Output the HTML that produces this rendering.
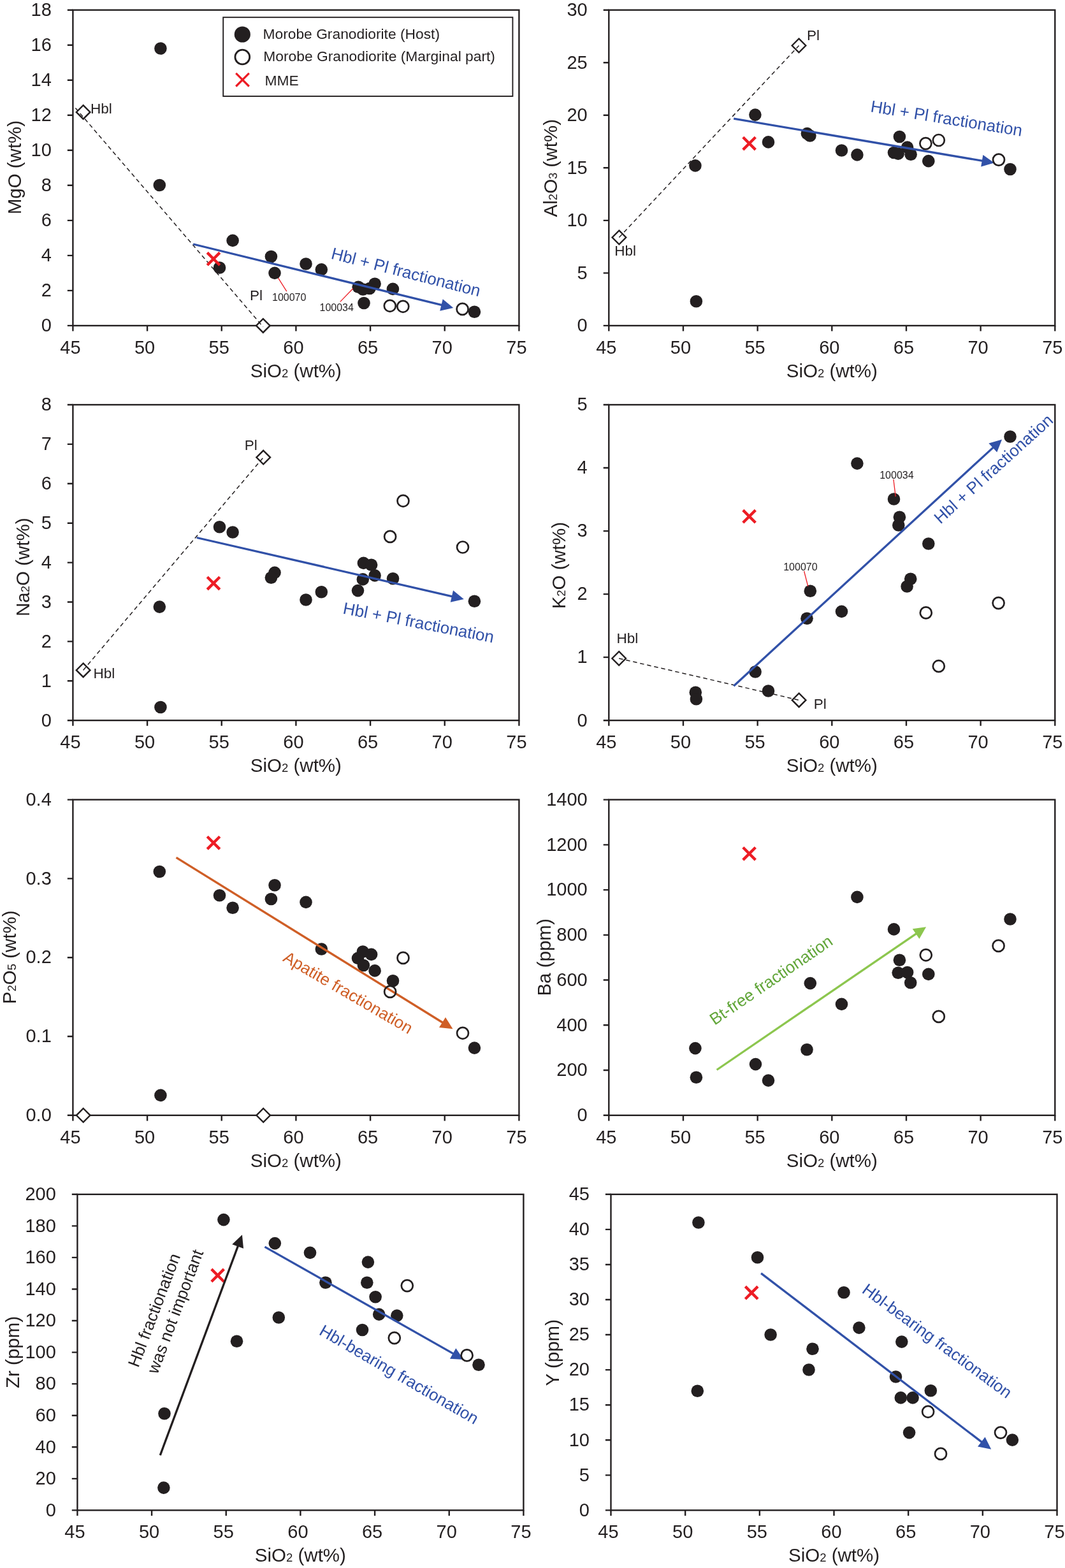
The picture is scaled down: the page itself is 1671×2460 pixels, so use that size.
<!DOCTYPE html>
<html><head><meta charset="utf-8"><title>Harker diagrams</title>
<style>html,body{margin:0;padding:0;background:#fff;}svg{display:block;}</style>
</head><body>
<svg width="1671" height="2460" viewBox="0 0 1671 2460" font-family="'Liberation Sans', Arial, Helvetica, sans-serif">
<rect width="1671" height="2460" fill="#fff"/>
<rect x="114.4" y="15.7" width="700" height="495.2" fill="none" stroke="#231f20" stroke-width="2.4"/>
<text x="80.8" y="520.19" font-size="29" fill="#231f20" text-anchor="end">0</text>
<text x="80.8" y="465.17" font-size="29" fill="#231f20" text-anchor="end">2</text>
<text x="80.8" y="410.15" font-size="29" fill="#231f20" text-anchor="end">4</text>
<text x="80.8" y="355.13" font-size="29" fill="#231f20" text-anchor="end">6</text>
<text x="80.8" y="300.11" font-size="29" fill="#231f20" text-anchor="end">8</text>
<text x="80.8" y="245.08" font-size="29" fill="#231f20" text-anchor="end">10</text>
<text x="80.8" y="190.06" font-size="29" fill="#231f20" text-anchor="end">12</text>
<text x="80.8" y="135.04" font-size="29" fill="#231f20" text-anchor="end">14</text>
<text x="80.8" y="80.02" font-size="29" fill="#231f20" text-anchor="end">16</text>
<text x="80.8" y="24.99" font-size="29" fill="#231f20" text-anchor="end">18</text>
<text x="110.4" y="554.9" font-size="29" fill="#231f20" text-anchor="middle">45</text>
<text x="227.07" y="554.9" font-size="29" fill="#231f20" text-anchor="middle">50</text>
<text x="343.73" y="554.9" font-size="29" fill="#231f20" text-anchor="middle">55</text>
<text x="460.4" y="554.9" font-size="29" fill="#231f20" text-anchor="middle">60</text>
<text x="577.07" y="554.9" font-size="29" fill="#231f20" text-anchor="middle">65</text>
<text x="693.73" y="554.9" font-size="29" fill="#231f20" text-anchor="middle">70</text>
<text x="810.4" y="554.9" font-size="29" fill="#231f20" text-anchor="middle">75</text>
<path d="M105.8 510.9H114.4M105.8 455.88H114.4M105.8 400.86H114.4M105.8 345.83H114.4M105.8 290.81H114.4M105.8 235.79H114.4M105.8 180.77H114.4M105.8 125.74H114.4M105.8 70.72H114.4M105.8 15.7H114.4M114.4 510.9V519.5M231.07 510.9V519.5M347.73 510.9V519.5M464.4 510.9V519.5M581.07 510.9V519.5M697.73 510.9V519.5M814.4 510.9V519.5" stroke="#231f20" stroke-width="2.4" fill="none"/>
<text x="464.4" y="591.9" font-size="29.5" fill="#231f20" text-anchor="middle">SiO<tspan font-size="18.5">2</tspan> (wt%)</text>
<text x="33.2" y="262.6" font-size="29.5" fill="#231f20" text-anchor="middle" transform="rotate(-90 33.2 262.6)">MgO (wt%)</text>
<path d="M130.6 165.1L141.4 175.9L130.6 186.7L119.8 175.9Z" stroke="#231f20" stroke-width="2.4" fill="#fff"/>
<path d="M412.8 500.1L423.6 510.9L412.8 521.7L402 510.9Z" stroke="#231f20" stroke-width="2.4" fill="#fff"/>
<path d="M118.4 169.4L412.8 512.8" stroke="#231f20" stroke-width="1.5" stroke-dasharray="6.5 4.8" fill="none"/>
<text x="142.1" y="177.9" font-size="22.5" fill="#231f20">Hbl</text>
<text x="391.9" y="471" font-size="22.5" fill="#231f20">Pl</text>
<circle cx="251.9" cy="76" r="9.8" fill="#231f20"/>
<circle cx="250.3" cy="290.5" r="9.8" fill="#231f20"/>
<circle cx="365.1" cy="377.4" r="9.8" fill="#231f20"/>
<circle cx="344.5" cy="420" r="9.8" fill="#231f20"/>
<circle cx="425.4" cy="402.5" r="9.8" fill="#231f20"/>
<circle cx="431" cy="428.4" r="9.8" fill="#231f20"/>
<circle cx="480" cy="414" r="9.8" fill="#231f20"/>
<circle cx="504.3" cy="422.9" r="9.8" fill="#231f20"/>
<circle cx="562.2" cy="450.2" r="9.8" fill="#231f20"/>
<circle cx="569.5" cy="454" r="9.8" fill="#231f20"/>
<circle cx="580" cy="452.5" r="9.8" fill="#231f20"/>
<circle cx="588.1" cy="445.3" r="9.8" fill="#231f20"/>
<circle cx="571" cy="475.5" r="9.8" fill="#231f20"/>
<circle cx="616.4" cy="453.4" r="9.8" fill="#231f20"/>
<circle cx="744.4" cy="489.3" r="9.8" fill="#231f20"/>
<path d="M325.2 396.4L344.8 416M325.2 416L344.8 396.4" stroke="#ed1c24" stroke-width="4.4" fill="none"/>
<path d="M436.5 436.1L449.8 457.2" stroke="#ed1c24" stroke-width="1.3" fill="none"/>
<text x="427" y="471.6" font-size="16" fill="#231f20">100070</text>
<path d="M553.8 452.8L533.8 473.4" stroke="#ed1c24" stroke-width="1.3" fill="none"/>
<text x="501.5" y="488.2" font-size="16" fill="#231f20">100034</text>
<path d="M303.1 383L693.43 478.72" stroke="#3151a8" stroke-width="3.3" fill="none"/>
<path d="M711.3 483.1L690.2 487.71L694.72 469.25Z" fill="#3151a8"/>
<text x="518.3" y="405.5" font-size="26" fill="#3151a8" transform="rotate(14.4 518.3 405.5)">Hbl + Pl fractionation</text>
<circle cx="611.8" cy="479.8" r="9" fill="none" stroke="#231f20" stroke-width="2.7"/>
<circle cx="632.3" cy="480.8" r="9" fill="none" stroke="#231f20" stroke-width="2.7"/>
<circle cx="725.6" cy="484.9" r="9" fill="none" stroke="#231f20" stroke-width="2.7"/>
<rect x="350.2" y="27.2" width="454.2" height="123.8" fill="#fff" stroke="#231f20" stroke-width="1.9"/>
<circle cx="380.3" cy="54" r="12.6" fill="#231f20"/>
<circle cx="380.3" cy="89.5" r="11.4" fill="none" stroke="#231f20" stroke-width="2.8"/>
<path d="M370.2 114.9L390.8 135.5M370.2 135.5L390.8 114.9" stroke="#ed1c24" stroke-width="3.2" fill="none"/>
<text x="412.5" y="60.8" font-size="22.8" fill="#231f20">Morobe Granodiorite (Host)</text>
<text x="413.3" y="95.9" font-size="22.8" fill="#231f20">Morobe Granodiorite (Marginal part)</text>
<text x="415.5" y="133.9" font-size="22.8" fill="#231f20">MME</text>
<rect x="955.3" y="15.7" width="700" height="495.2" fill="none" stroke="#231f20" stroke-width="2.4"/>
<text x="921.7" y="520.19" font-size="29" fill="#231f20" text-anchor="end">0</text>
<text x="921.7" y="437.66" font-size="29" fill="#231f20" text-anchor="end">5</text>
<text x="921.7" y="355.13" font-size="29" fill="#231f20" text-anchor="end">10</text>
<text x="921.7" y="272.59" font-size="29" fill="#231f20" text-anchor="end">15</text>
<text x="921.7" y="190.06" font-size="29" fill="#231f20" text-anchor="end">20</text>
<text x="921.7" y="107.53" font-size="29" fill="#231f20" text-anchor="end">25</text>
<text x="921.7" y="24.99" font-size="29" fill="#231f20" text-anchor="end">30</text>
<text x="951.3" y="554.9" font-size="29" fill="#231f20" text-anchor="middle">45</text>
<text x="1067.97" y="554.9" font-size="29" fill="#231f20" text-anchor="middle">50</text>
<text x="1184.63" y="554.9" font-size="29" fill="#231f20" text-anchor="middle">55</text>
<text x="1301.3" y="554.9" font-size="29" fill="#231f20" text-anchor="middle">60</text>
<text x="1417.97" y="554.9" font-size="29" fill="#231f20" text-anchor="middle">65</text>
<text x="1534.63" y="554.9" font-size="29" fill="#231f20" text-anchor="middle">70</text>
<text x="1651.3" y="554.9" font-size="29" fill="#231f20" text-anchor="middle">75</text>
<path d="M946.7 510.9H955.3M946.7 428.37H955.3M946.7 345.83H955.3M946.7 263.3H955.3M946.7 180.77H955.3M946.7 98.23H955.3M946.7 15.7H955.3M955.3 510.9V519.5M1071.97 510.9V519.5M1188.63 510.9V519.5M1305.3 510.9V519.5M1421.97 510.9V519.5M1538.63 510.9V519.5M1655.3 510.9V519.5" stroke="#231f20" stroke-width="2.4" fill="none"/>
<text x="1305.3" y="591.9" font-size="29.5" fill="#231f20" text-anchor="middle">SiO<tspan font-size="18.5">2</tspan> (wt%)</text>
<text x="873.7" y="263.7" font-size="29.5" fill="#231f20" text-anchor="middle" transform="rotate(-90 873.7 263.7)">Al<tspan font-size="18.5">2</tspan>O<tspan font-size="18.5">3</tspan> (wt%)</text>
<path d="M971.4 361.7L982.2 372.5L971.4 383.3L960.6 372.5Z" stroke="#231f20" stroke-width="2.4" fill="#fff"/>
<path d="M1253.5 60.7L1264.3 71.5L1253.5 82.3L1242.7 71.5Z" stroke="#231f20" stroke-width="2.4" fill="#fff"/>
<path d="M971.4 372.5L1253.5 71.5" stroke="#231f20" stroke-width="1.5" stroke-dasharray="6.5 4.8" fill="none"/>
<text x="1265.9" y="63" font-size="22.5" fill="#231f20">Pl</text>
<text x="964.3" y="400.6" font-size="22.5" fill="#231f20">Hbl</text>
<circle cx="1184.9" cy="180.1" r="9.8" fill="#231f20"/>
<circle cx="1205.5" cy="222.9" r="9.8" fill="#231f20"/>
<circle cx="1266.4" cy="209.6" r="9.8" fill="#231f20"/>
<circle cx="1270.9" cy="213" r="9.8" fill="#231f20"/>
<circle cx="1090.9" cy="259.9" r="9.8" fill="#231f20"/>
<circle cx="1092.4" cy="472.7" r="9.8" fill="#231f20"/>
<circle cx="1320.5" cy="236" r="9.8" fill="#231f20"/>
<circle cx="1344.9" cy="242.9" r="9.8" fill="#231f20"/>
<circle cx="1411.4" cy="214.5" r="9.8" fill="#231f20"/>
<circle cx="1423.6" cy="231.1" r="9.8" fill="#231f20"/>
<circle cx="1402.5" cy="239.5" r="9.8" fill="#231f20"/>
<circle cx="1409.2" cy="241.1" r="9.8" fill="#231f20"/>
<circle cx="1429.1" cy="242.2" r="9.8" fill="#231f20"/>
<circle cx="1456.8" cy="252.6" r="9.8" fill="#231f20"/>
<circle cx="1585" cy="265.5" r="9.8" fill="#231f20"/>
<path d="M1165.8 215.3L1185.4 234.9M1165.8 234.9L1185.4 215.3" stroke="#ed1c24" stroke-width="4.4" fill="none"/>
<path d="M1151.2 186.1L1541.76 252.42" stroke="#3151a8" stroke-width="3.3" fill="none"/>
<path d="M1559.9 255.5L1539.18 261.62L1542.36 242.89Z" fill="#3151a8"/>
<text x="1364.9" y="175.3" font-size="26" fill="#3151a8" transform="rotate(9.19 1364.9 175.3)">Hbl + Pl fractionation</text>
<circle cx="1452.4" cy="225.1" r="9" fill="none" stroke="#231f20" stroke-width="2.7"/>
<circle cx="1472.8" cy="220" r="9" fill="none" stroke="#231f20" stroke-width="2.7"/>
<circle cx="1567" cy="250.6" r="9" fill="none" stroke="#231f20" stroke-width="2.7"/>
<rect x="114.4" y="635" width="700" height="495.2" fill="none" stroke="#231f20" stroke-width="2.4"/>
<text x="80.8" y="1139.5" font-size="29" fill="#231f20" text-anchor="end">0</text>
<text x="80.8" y="1077.6" font-size="29" fill="#231f20" text-anchor="end">1</text>
<text x="80.8" y="1015.7" font-size="29" fill="#231f20" text-anchor="end">2</text>
<text x="80.8" y="953.79" font-size="29" fill="#231f20" text-anchor="end">3</text>
<text x="80.8" y="891.89" font-size="29" fill="#231f20" text-anchor="end">4</text>
<text x="80.8" y="830" font-size="29" fill="#231f20" text-anchor="end">5</text>
<text x="80.8" y="768.09" font-size="29" fill="#231f20" text-anchor="end">6</text>
<text x="80.8" y="706.19" font-size="29" fill="#231f20" text-anchor="end">7</text>
<text x="80.8" y="644.29" font-size="29" fill="#231f20" text-anchor="end">8</text>
<text x="110.4" y="1174.2" font-size="29" fill="#231f20" text-anchor="middle">45</text>
<text x="227.07" y="1174.2" font-size="29" fill="#231f20" text-anchor="middle">50</text>
<text x="343.73" y="1174.2" font-size="29" fill="#231f20" text-anchor="middle">55</text>
<text x="460.4" y="1174.2" font-size="29" fill="#231f20" text-anchor="middle">60</text>
<text x="577.07" y="1174.2" font-size="29" fill="#231f20" text-anchor="middle">65</text>
<text x="693.73" y="1174.2" font-size="29" fill="#231f20" text-anchor="middle">70</text>
<text x="810.4" y="1174.2" font-size="29" fill="#231f20" text-anchor="middle">75</text>
<path d="M105.8 1130.2H114.4M105.8 1068.3H114.4M105.8 1006.4H114.4M105.8 944.5H114.4M105.8 882.6H114.4M105.8 820.7H114.4M105.8 758.8H114.4M105.8 696.9H114.4M105.8 635H114.4M114.4 1130.2V1138.8M231.07 1130.2V1138.8M347.73 1130.2V1138.8M464.4 1130.2V1138.8M581.07 1130.2V1138.8M697.73 1130.2V1138.8M814.4 1130.2V1138.8" stroke="#231f20" stroke-width="2.4" fill="none"/>
<text x="464.4" y="1211.2" font-size="29.5" fill="#231f20" text-anchor="middle">SiO<tspan font-size="18.5">2</tspan> (wt%)</text>
<text x="46.1" y="889.7" font-size="29.5" fill="#231f20" text-anchor="middle" transform="rotate(-90 46.1 889.7)">Na<tspan font-size="18.5">2</tspan>O (wt%)</text>
<path d="M130.6 1040.6L141.4 1051.4L130.6 1062.2L119.8 1051.4Z" stroke="#231f20" stroke-width="2.4" fill="#fff"/>
<path d="M413.2 706.8L424 717.6L413.2 728.4L402.4 717.6Z" stroke="#231f20" stroke-width="2.4" fill="#fff"/>
<path d="M130.6 1051.4L413.2 717.6" stroke="#231f20" stroke-width="1.5" stroke-dasharray="6.5 4.8" fill="none"/>
<text x="383.7" y="705.6" font-size="22.5" fill="#231f20">Pl</text>
<text x="146.6" y="1064" font-size="22.5" fill="#231f20">Hbl</text>
<circle cx="344.5" cy="826.8" r="9.8" fill="#231f20"/>
<circle cx="365.1" cy="835" r="9.8" fill="#231f20"/>
<circle cx="431" cy="898.4" r="9.8" fill="#231f20"/>
<circle cx="425.4" cy="906.2" r="9.8" fill="#231f20"/>
<circle cx="250.3" cy="952.1" r="9.8" fill="#231f20"/>
<circle cx="251.9" cy="1109.5" r="9.8" fill="#231f20"/>
<circle cx="570.4" cy="883.4" r="9.8" fill="#231f20"/>
<circle cx="582.6" cy="886.2" r="9.8" fill="#231f20"/>
<circle cx="588.1" cy="902.9" r="9.8" fill="#231f20"/>
<circle cx="569.3" cy="908.9" r="9.8" fill="#231f20"/>
<circle cx="616.5" cy="907.8" r="9.8" fill="#231f20"/>
<circle cx="561.5" cy="926.6" r="9.8" fill="#231f20"/>
<circle cx="504.3" cy="928.8" r="9.8" fill="#231f20"/>
<circle cx="480" cy="941" r="9.8" fill="#231f20"/>
<circle cx="744.4" cy="943.2" r="9.8" fill="#231f20"/>
<path d="M325.2 905.3L344.8 924.9M325.2 924.9L344.8 905.3" stroke="#ed1c24" stroke-width="4.4" fill="none"/>
<path d="M308.6 843.5L709.87 935.78" stroke="#3151a8" stroke-width="3.3" fill="none"/>
<path d="M727.8 939.9L706.76 944.81L711.02 926.29Z" fill="#3151a8"/>
<text x="537" y="962.5" font-size="26" fill="#3151a8" transform="rotate(11 537 962.5)">Hbl + Pl fractionation</text>
<circle cx="632.5" cy="785.8" r="9" fill="none" stroke="#231f20" stroke-width="2.7"/>
<circle cx="612.1" cy="841.9" r="9" fill="none" stroke="#231f20" stroke-width="2.7"/>
<circle cx="726" cy="858.5" r="9" fill="none" stroke="#231f20" stroke-width="2.7"/>
<rect x="955.3" y="635" width="700" height="495.2" fill="none" stroke="#231f20" stroke-width="2.4"/>
<text x="921.7" y="1139.5" font-size="29" fill="#231f20" text-anchor="end">0</text>
<text x="921.7" y="1040.46" font-size="29" fill="#231f20" text-anchor="end">1</text>
<text x="921.7" y="941.41" font-size="29" fill="#231f20" text-anchor="end">2</text>
<text x="921.7" y="842.38" font-size="29" fill="#231f20" text-anchor="end">3</text>
<text x="921.7" y="743.33" font-size="29" fill="#231f20" text-anchor="end">4</text>
<text x="921.7" y="644.29" font-size="29" fill="#231f20" text-anchor="end">5</text>
<text x="951.3" y="1174.2" font-size="29" fill="#231f20" text-anchor="middle">45</text>
<text x="1067.97" y="1174.2" font-size="29" fill="#231f20" text-anchor="middle">50</text>
<text x="1184.63" y="1174.2" font-size="29" fill="#231f20" text-anchor="middle">55</text>
<text x="1301.3" y="1174.2" font-size="29" fill="#231f20" text-anchor="middle">60</text>
<text x="1417.97" y="1174.2" font-size="29" fill="#231f20" text-anchor="middle">65</text>
<text x="1534.63" y="1174.2" font-size="29" fill="#231f20" text-anchor="middle">70</text>
<text x="1651.3" y="1174.2" font-size="29" fill="#231f20" text-anchor="middle">75</text>
<path d="M946.7 1130.2H955.3M946.7 1031.16H955.3M946.7 932.12H955.3M946.7 833.08H955.3M946.7 734.04H955.3M946.7 635H955.3M955.3 1130.2V1138.8M1071.97 1130.2V1138.8M1188.63 1130.2V1138.8M1305.3 1130.2V1138.8M1421.97 1130.2V1138.8M1538.63 1130.2V1138.8M1655.3 1130.2V1138.8" stroke="#231f20" stroke-width="2.4" fill="none"/>
<text x="1305.3" y="1211.2" font-size="29.5" fill="#231f20" text-anchor="middle">SiO<tspan font-size="18.5">2</tspan> (wt%)</text>
<text x="886.7" y="887.1" font-size="29.5" fill="#231f20" text-anchor="middle" transform="rotate(-90 886.7 887.1)">K<tspan font-size="18.5">2</tspan>O (wt%)</text>
<path d="M971.2 1022.2L982 1033L971.2 1043.8L960.4 1033Z" stroke="#231f20" stroke-width="2.4" fill="#fff"/>
<path d="M1253.6 1087.6L1264.4 1098.4L1253.6 1109.2L1242.8 1098.4Z" stroke="#231f20" stroke-width="2.4" fill="#fff"/>
<path d="M971.2 1033L1253.6 1098.4" stroke="#231f20" stroke-width="1.5" stroke-dasharray="6.5 4.8" fill="none"/>
<text x="967.6" y="1009.3" font-size="22.5" fill="#231f20">Hbl</text>
<text x="1276.8" y="1111.7" font-size="22.5" fill="#231f20">Pl</text>
<circle cx="1271.3" cy="927.3" r="9.8" fill="#231f20"/>
<circle cx="1266" cy="970.3" r="9.8" fill="#231f20"/>
<circle cx="1185.1" cy="1054" r="9.8" fill="#231f20"/>
<circle cx="1091.3" cy="1086.2" r="9.8" fill="#231f20"/>
<circle cx="1092.4" cy="1096.8" r="9.8" fill="#231f20"/>
<circle cx="1205.5" cy="1084" r="9.8" fill="#231f20"/>
<circle cx="1585" cy="685" r="9.8" fill="#231f20"/>
<circle cx="1344.9" cy="727.1" r="9.8" fill="#231f20"/>
<circle cx="1402.5" cy="783" r="9.8" fill="#231f20"/>
<circle cx="1411.4" cy="811.3" r="9.8" fill="#231f20"/>
<circle cx="1409.8" cy="824" r="9.8" fill="#231f20"/>
<circle cx="1456.8" cy="853" r="9.8" fill="#231f20"/>
<circle cx="1428.7" cy="908.2" r="9.8" fill="#231f20"/>
<circle cx="1423.1" cy="920" r="9.8" fill="#231f20"/>
<circle cx="1320.5" cy="959.4" r="9.8" fill="#231f20"/>
<path d="M1165.8 800.4L1185.4 820M1165.8 820L1185.4 800.4" stroke="#ed1c24" stroke-width="4.4" fill="none"/>
<path d="M1261.6 896L1267.8 920" stroke="#ed1c24" stroke-width="1.3" fill="none"/>
<text x="1229.2" y="894.5" font-size="16" fill="#231f20">100070</text>
<path d="M1401.9 752L1405.2 779.2" stroke="#ed1c24" stroke-width="1.3" fill="none"/>
<text x="1380.2" y="751" font-size="16" fill="#231f20">100034</text>
<path d="M1151.2 1076.2L1558.55 701.85" stroke="#3151a8" stroke-width="3.3" fill="none"/>
<path d="M1572.1 689.4L1564.24 709.52L1551.39 695.53Z" fill="#3151a8"/>
<text x="1475.4" y="822.9" font-size="26" fill="#3151a8" transform="rotate(-42.1 1475.4 822.9)">Hbl + Pl fractionation</text>
<circle cx="1452.8" cy="961.4" r="9" fill="none" stroke="#231f20" stroke-width="2.7"/>
<circle cx="1566.6" cy="946.1" r="9" fill="none" stroke="#231f20" stroke-width="2.7"/>
<circle cx="1472.8" cy="1045.2" r="9" fill="none" stroke="#231f20" stroke-width="2.7"/>
<rect x="114.4" y="1254.6" width="700" height="495.2" fill="none" stroke="#231f20" stroke-width="2.4"/>
<text x="80.8" y="1759.1" font-size="29" fill="#231f20" text-anchor="end">0.0</text>
<text x="80.8" y="1635.3" font-size="29" fill="#231f20" text-anchor="end">0.1</text>
<text x="80.8" y="1511.49" font-size="29" fill="#231f20" text-anchor="end">0.2</text>
<text x="80.8" y="1387.69" font-size="29" fill="#231f20" text-anchor="end">0.3</text>
<text x="80.8" y="1263.89" font-size="29" fill="#231f20" text-anchor="end">0.4</text>
<text x="110.4" y="1793.8" font-size="29" fill="#231f20" text-anchor="middle">45</text>
<text x="227.07" y="1793.8" font-size="29" fill="#231f20" text-anchor="middle">50</text>
<text x="343.73" y="1793.8" font-size="29" fill="#231f20" text-anchor="middle">55</text>
<text x="460.4" y="1793.8" font-size="29" fill="#231f20" text-anchor="middle">60</text>
<text x="577.07" y="1793.8" font-size="29" fill="#231f20" text-anchor="middle">65</text>
<text x="693.73" y="1793.8" font-size="29" fill="#231f20" text-anchor="middle">70</text>
<text x="810.4" y="1793.8" font-size="29" fill="#231f20" text-anchor="middle">75</text>
<path d="M105.8 1749.8H114.4M105.8 1626H114.4M105.8 1502.2H114.4M105.8 1378.4H114.4M105.8 1254.6H114.4M114.4 1749.8V1758.4M231.07 1749.8V1758.4M347.73 1749.8V1758.4M464.4 1749.8V1758.4M581.07 1749.8V1758.4M697.73 1749.8V1758.4M814.4 1749.8V1758.4" stroke="#231f20" stroke-width="2.4" fill="none"/>
<text x="464.4" y="1830.8" font-size="29.5" fill="#231f20" text-anchor="middle">SiO<tspan font-size="18.5">2</tspan> (wt%)</text>
<text x="24.9" y="1501.8" font-size="29.5" fill="#231f20" text-anchor="middle" transform="rotate(-90 24.9 1501.8)">P<tspan font-size="18.5">2</tspan>O<tspan font-size="18.5">5</tspan> (wt%)</text>
<path d="M130.7 1739L141.5 1749.8L130.7 1760.6L119.9 1749.8Z" stroke="#231f20" stroke-width="2.4" fill="#fff"/>
<path d="M413.2 1739L424 1749.8L413.2 1760.6L402.4 1749.8Z" stroke="#231f20" stroke-width="2.4" fill="#fff"/>
<circle cx="250.3" cy="1367.5" r="9.8" fill="#231f20"/>
<circle cx="344.5" cy="1404.7" r="9.8" fill="#231f20"/>
<circle cx="365.1" cy="1424.2" r="9.8" fill="#231f20"/>
<circle cx="431" cy="1388.8" r="9.8" fill="#231f20"/>
<circle cx="425.4" cy="1410.5" r="9.8" fill="#231f20"/>
<circle cx="251.9" cy="1718.4" r="9.8" fill="#231f20"/>
<circle cx="480" cy="1415.4" r="9.8" fill="#231f20"/>
<circle cx="504.3" cy="1489" r="9.8" fill="#231f20"/>
<circle cx="569.3" cy="1493" r="9.8" fill="#231f20"/>
<circle cx="582.6" cy="1497.4" r="9.8" fill="#231f20"/>
<circle cx="561.5" cy="1503.4" r="9.8" fill="#231f20"/>
<circle cx="570.4" cy="1514.5" r="9.8" fill="#231f20"/>
<circle cx="588.1" cy="1522.9" r="9.8" fill="#231f20"/>
<circle cx="616.5" cy="1538.8" r="9.8" fill="#231f20"/>
<circle cx="744.4" cy="1644.1" r="9.8" fill="#231f20"/>
<path d="M325.2 1312.5L344.8 1332.1M325.2 1332.1L344.8 1312.5" stroke="#ed1c24" stroke-width="4.4" fill="none"/>
<path d="M276.5 1345.3L694.86 1604.51" stroke="#cf5e26" stroke-width="3.3" fill="none"/>
<path d="M710.5 1614.2L689.01 1612.06L699.01 1595.91Z" fill="#cf5e26"/>
<text x="442.4" y="1506.9" font-size="26" fill="#cf5e26" transform="rotate(30.25 442.4 1506.9)">Apatite fractionation</text>
<circle cx="632.5" cy="1502.9" r="9" fill="none" stroke="#231f20" stroke-width="2.7"/>
<circle cx="612.1" cy="1555.9" r="9" fill="none" stroke="#231f20" stroke-width="2.7"/>
<circle cx="726" cy="1620.8" r="9" fill="none" stroke="#231f20" stroke-width="2.7"/>
<rect x="955.3" y="1254.6" width="700" height="495.2" fill="none" stroke="#231f20" stroke-width="2.4"/>
<text x="921.7" y="1759.1" font-size="29" fill="#231f20" text-anchor="end">0</text>
<text x="921.7" y="1688.35" font-size="29" fill="#231f20" text-anchor="end">200</text>
<text x="921.7" y="1617.61" font-size="29" fill="#231f20" text-anchor="end">400</text>
<text x="921.7" y="1546.87" font-size="29" fill="#231f20" text-anchor="end">600</text>
<text x="921.7" y="1476.12" font-size="29" fill="#231f20" text-anchor="end">800</text>
<text x="921.7" y="1405.38" font-size="29" fill="#231f20" text-anchor="end">1000</text>
<text x="921.7" y="1334.64" font-size="29" fill="#231f20" text-anchor="end">1200</text>
<text x="921.7" y="1263.89" font-size="29" fill="#231f20" text-anchor="end">1400</text>
<text x="951.3" y="1793.8" font-size="29" fill="#231f20" text-anchor="middle">45</text>
<text x="1067.97" y="1793.8" font-size="29" fill="#231f20" text-anchor="middle">50</text>
<text x="1184.63" y="1793.8" font-size="29" fill="#231f20" text-anchor="middle">55</text>
<text x="1301.3" y="1793.8" font-size="29" fill="#231f20" text-anchor="middle">60</text>
<text x="1417.97" y="1793.8" font-size="29" fill="#231f20" text-anchor="middle">65</text>
<text x="1534.63" y="1793.8" font-size="29" fill="#231f20" text-anchor="middle">70</text>
<text x="1651.3" y="1793.8" font-size="29" fill="#231f20" text-anchor="middle">75</text>
<path d="M946.7 1749.8H955.3M946.7 1679.06H955.3M946.7 1608.31H955.3M946.7 1537.57H955.3M946.7 1466.83H955.3M946.7 1396.09H955.3M946.7 1325.34H955.3M946.7 1254.6H955.3M955.3 1749.8V1758.4M1071.97 1749.8V1758.4M1188.63 1749.8V1758.4M1305.3 1749.8V1758.4M1421.97 1749.8V1758.4M1538.63 1749.8V1758.4M1655.3 1749.8V1758.4" stroke="#231f20" stroke-width="2.4" fill="none"/>
<text x="1305.3" y="1830.8" font-size="29.5" fill="#231f20" text-anchor="middle">SiO<tspan font-size="18.5">2</tspan> (wt%)</text>
<text x="863.7" y="1501.9" font-size="29.5" fill="#231f20" text-anchor="middle" transform="rotate(-90 863.7 1501.9)">Ba (ppm)</text>
<circle cx="1271.3" cy="1542.6" r="9.8" fill="#231f20"/>
<circle cx="1090.9" cy="1644.6" r="9.8" fill="#231f20"/>
<circle cx="1092.4" cy="1690.2" r="9.8" fill="#231f20"/>
<circle cx="1185.5" cy="1669.6" r="9.8" fill="#231f20"/>
<circle cx="1205.5" cy="1695.1" r="9.8" fill="#231f20"/>
<circle cx="1266" cy="1646.8" r="9.8" fill="#231f20"/>
<circle cx="1344.9" cy="1407.4" r="9.8" fill="#231f20"/>
<circle cx="1585" cy="1442" r="9.8" fill="#231f20"/>
<circle cx="1402.5" cy="1457.9" r="9.8" fill="#231f20"/>
<circle cx="1411.4" cy="1506.2" r="9.8" fill="#231f20"/>
<circle cx="1409.2" cy="1526.2" r="9.8" fill="#231f20"/>
<circle cx="1423.6" cy="1525.5" r="9.8" fill="#231f20"/>
<circle cx="1428.7" cy="1541.7" r="9.8" fill="#231f20"/>
<circle cx="1456.8" cy="1528.4" r="9.8" fill="#231f20"/>
<circle cx="1320.5" cy="1575.4" r="9.8" fill="#231f20"/>
<path d="M1165.8 1329.5L1185.4 1349.1M1165.8 1349.1L1185.4 1329.5" stroke="#ed1c24" stroke-width="4.4" fill="none"/>
<path d="M1124.6 1678.5L1437.9 1464.58" stroke="#8cc64e" stroke-width="3.3" fill="none"/>
<path d="M1453.1 1454.2L1442.44 1472.99L1431.72 1457.29Z" fill="#8cc64e"/>
<text x="1121.3" y="1609.1" font-size="26" fill="#62a63a" transform="rotate(-34.4 1121.3 1609.1)">Bt-free fractionation</text>
<circle cx="1566.6" cy="1483.9" r="9" fill="none" stroke="#231f20" stroke-width="2.7"/>
<circle cx="1452.8" cy="1498.3" r="9" fill="none" stroke="#231f20" stroke-width="2.7"/>
<circle cx="1472.8" cy="1594.9" r="9" fill="none" stroke="#231f20" stroke-width="2.7"/>
<rect x="121.4" y="1873.8" width="700" height="495.6" fill="none" stroke="#231f20" stroke-width="2.4"/>
<text x="87.8" y="2378.7" font-size="29" fill="#231f20" text-anchor="end">0</text>
<text x="87.8" y="2329.14" font-size="29" fill="#231f20" text-anchor="end">20</text>
<text x="87.8" y="2279.58" font-size="29" fill="#231f20" text-anchor="end">40</text>
<text x="87.8" y="2230.02" font-size="29" fill="#231f20" text-anchor="end">60</text>
<text x="87.8" y="2180.45" font-size="29" fill="#231f20" text-anchor="end">80</text>
<text x="87.8" y="2130.89" font-size="29" fill="#231f20" text-anchor="end">100</text>
<text x="87.8" y="2081.34" font-size="29" fill="#231f20" text-anchor="end">120</text>
<text x="87.8" y="2031.78" font-size="29" fill="#231f20" text-anchor="end">140</text>
<text x="87.8" y="1982.22" font-size="29" fill="#231f20" text-anchor="end">160</text>
<text x="87.8" y="1932.65" font-size="29" fill="#231f20" text-anchor="end">180</text>
<text x="87.8" y="1883.1" font-size="29" fill="#231f20" text-anchor="end">200</text>
<text x="117.4" y="2413.4" font-size="29" fill="#231f20" text-anchor="middle">45</text>
<text x="234.07" y="2413.4" font-size="29" fill="#231f20" text-anchor="middle">50</text>
<text x="350.73" y="2413.4" font-size="29" fill="#231f20" text-anchor="middle">55</text>
<text x="467.4" y="2413.4" font-size="29" fill="#231f20" text-anchor="middle">60</text>
<text x="584.07" y="2413.4" font-size="29" fill="#231f20" text-anchor="middle">65</text>
<text x="700.73" y="2413.4" font-size="29" fill="#231f20" text-anchor="middle">70</text>
<text x="817.4" y="2413.4" font-size="29" fill="#231f20" text-anchor="middle">75</text>
<path d="M112.8 2369.4H121.4M112.8 2319.84H121.4M112.8 2270.28H121.4M112.8 2220.72H121.4M112.8 2171.16H121.4M112.8 2121.6H121.4M112.8 2072.04H121.4M112.8 2022.48H121.4M112.8 1972.92H121.4M112.8 1923.36H121.4M112.8 1873.8H121.4M121.4 2369.4V2378M238.07 2369.4V2378M354.73 2369.4V2378M471.4 2369.4V2378M588.07 2369.4V2378M704.73 2369.4V2378M821.4 2369.4V2378" stroke="#231f20" stroke-width="2.4" fill="none"/>
<text x="471.4" y="2450.4" font-size="29.5" fill="#231f20" text-anchor="middle">SiO<tspan font-size="18.5">2</tspan> (wt%)</text>
<text x="29.8" y="2121.5" font-size="29.5" fill="#231f20" text-anchor="middle" transform="rotate(-90 29.8 2121.5)">Zr (ppm)</text>
<circle cx="350.9" cy="1913.6" r="9.8" fill="#231f20"/>
<circle cx="431.3" cy="1950.6" r="9.8" fill="#231f20"/>
<circle cx="437.3" cy="2067" r="9.8" fill="#231f20"/>
<circle cx="371.5" cy="2104.2" r="9.8" fill="#231f20"/>
<circle cx="258" cy="2217.7" r="9.8" fill="#231f20"/>
<circle cx="256.9" cy="2334.1" r="9.8" fill="#231f20"/>
<circle cx="486.5" cy="1965.4" r="9.8" fill="#231f20"/>
<circle cx="577.4" cy="1980.1" r="9.8" fill="#231f20"/>
<circle cx="510.9" cy="2012.2" r="9.8" fill="#231f20"/>
<circle cx="575.8" cy="2012.2" r="9.8" fill="#231f20"/>
<circle cx="589.1" cy="2034.8" r="9.8" fill="#231f20"/>
<circle cx="594.7" cy="2062.1" r="9.8" fill="#231f20"/>
<circle cx="622.8" cy="2064.1" r="9.8" fill="#231f20"/>
<circle cx="568.5" cy="2086.5" r="9.8" fill="#231f20"/>
<circle cx="751" cy="2141.2" r="9.8" fill="#231f20"/>
<path d="M331.8 1991.1L351.4 2010.7M331.8 2010.7L351.4 1991.1" stroke="#ed1c24" stroke-width="4.4" fill="none"/>
<path d="M251.3 2283.1L373.49 1954.55" stroke="#231f20" stroke-width="3.3" fill="none"/>
<path d="M379.9 1937.3L382.04 1958.79L364.23 1952.17Z" fill="#231f20"/>
<path d="M415.4 1956.1L711.49 2123.93" stroke="#3151a8" stroke-width="3.3" fill="none"/>
<path d="M727.5 2133L705.94 2131.7L715.31 2115.17Z" fill="#3151a8"/>
<text x="217" y="2146.6" font-size="26" fill="#231f20" transform="rotate(-69.3 217 2146.6)">Hbl fractionation</text>
<text x="247" y="2156.7" font-size="26" fill="#231f20" transform="rotate(-69.3 247 2156.7)">was not important</text>
<text x="499.3" y="2092.9" font-size="26" fill="#3151a8" transform="rotate(30.2 499.3 2092.9)">Hbl-bearing fractionation</text>
<circle cx="638.8" cy="2017.1" r="9" fill="none" stroke="#231f20" stroke-width="2.7"/>
<circle cx="618.8" cy="2099.1" r="9" fill="none" stroke="#231f20" stroke-width="2.7"/>
<circle cx="732.6" cy="2126.4" r="9" fill="none" stroke="#231f20" stroke-width="2.7"/>
<rect x="958.5" y="1873.8" width="700" height="495.6" fill="none" stroke="#231f20" stroke-width="2.4"/>
<text x="924.9" y="2378.7" font-size="29" fill="#231f20" text-anchor="end">0</text>
<text x="924.9" y="2323.63" font-size="29" fill="#231f20" text-anchor="end">5</text>
<text x="924.9" y="2268.56" font-size="29" fill="#231f20" text-anchor="end">10</text>
<text x="924.9" y="2213.49" font-size="29" fill="#231f20" text-anchor="end">15</text>
<text x="924.9" y="2158.43" font-size="29" fill="#231f20" text-anchor="end">20</text>
<text x="924.9" y="2103.36" font-size="29" fill="#231f20" text-anchor="end">25</text>
<text x="924.9" y="2048.3" font-size="29" fill="#231f20" text-anchor="end">30</text>
<text x="924.9" y="1993.23" font-size="29" fill="#231f20" text-anchor="end">35</text>
<text x="924.9" y="1938.16" font-size="29" fill="#231f20" text-anchor="end">40</text>
<text x="924.9" y="1883.1" font-size="29" fill="#231f20" text-anchor="end">45</text>
<text x="954.5" y="2413.4" font-size="29" fill="#231f20" text-anchor="middle">45</text>
<text x="1071.17" y="2413.4" font-size="29" fill="#231f20" text-anchor="middle">50</text>
<text x="1187.83" y="2413.4" font-size="29" fill="#231f20" text-anchor="middle">55</text>
<text x="1304.5" y="2413.4" font-size="29" fill="#231f20" text-anchor="middle">60</text>
<text x="1421.17" y="2413.4" font-size="29" fill="#231f20" text-anchor="middle">65</text>
<text x="1537.83" y="2413.4" font-size="29" fill="#231f20" text-anchor="middle">70</text>
<text x="1654.5" y="2413.4" font-size="29" fill="#231f20" text-anchor="middle">75</text>
<path d="M949.9 2369.4H958.5M949.9 2314.33H958.5M949.9 2259.27H958.5M949.9 2204.2H958.5M949.9 2149.13H958.5M949.9 2094.07H958.5M949.9 2039H958.5M949.9 1983.93H958.5M949.9 1928.87H958.5M949.9 1873.8H958.5M958.5 2369.4V2378M1075.17 2369.4V2378M1191.83 2369.4V2378M1308.5 2369.4V2378M1425.17 2369.4V2378M1541.83 2369.4V2378M1658.5 2369.4V2378" stroke="#231f20" stroke-width="2.4" fill="none"/>
<text x="1308.5" y="2450.4" font-size="29.5" fill="#231f20" text-anchor="middle">SiO<tspan font-size="18.5">2</tspan> (wt%)</text>
<text x="877.4" y="2122.2" font-size="29.5" fill="#231f20" text-anchor="middle" transform="rotate(-90 877.4 2122.2)">Y (ppm)</text>
<circle cx="1095.9" cy="1918" r="9.8" fill="#231f20"/>
<circle cx="1188.5" cy="1972.7" r="9.8" fill="#231f20"/>
<circle cx="1209.1" cy="2094" r="9.8" fill="#231f20"/>
<circle cx="1275" cy="2116.2" r="9.8" fill="#231f20"/>
<circle cx="1269" cy="2149" r="9.8" fill="#231f20"/>
<circle cx="1094.3" cy="2182.2" r="9.8" fill="#231f20"/>
<circle cx="1324" cy="2027.7" r="9.8" fill="#231f20"/>
<circle cx="1347.9" cy="2083.1" r="9.8" fill="#231f20"/>
<circle cx="1414.8" cy="2105.1" r="9.8" fill="#231f20"/>
<circle cx="1405.5" cy="2160" r="9.8" fill="#231f20"/>
<circle cx="1460.3" cy="2181.8" r="9.8" fill="#231f20"/>
<circle cx="1413.3" cy="2192.9" r="9.8" fill="#231f20"/>
<circle cx="1432.1" cy="2192.9" r="9.8" fill="#231f20"/>
<circle cx="1426.6" cy="2247.6" r="9.8" fill="#231f20"/>
<circle cx="1588.4" cy="2259.1" r="9.8" fill="#231f20"/>
<path d="M1169.4 2018.4L1189 2038M1169.4 2038L1189 2018.4" stroke="#ed1c24" stroke-width="4.4" fill="none"/>
<path d="M1194.1 1997.6L1540.59 2262.62" stroke="#3151a8" stroke-width="3.3" fill="none"/>
<path d="M1555.2 2273.8L1534.02 2269.56L1545.56 2254.47Z" fill="#3151a8"/>
<text x="1351.1" y="2027" font-size="26" fill="#3151a8" transform="rotate(36.3 1351.1 2027)">Hbl-bearing fractionation</text>
<circle cx="1456.1" cy="2214.8" r="9" fill="none" stroke="#231f20" stroke-width="2.7"/>
<circle cx="1570" cy="2247.6" r="9" fill="none" stroke="#231f20" stroke-width="2.7"/>
<circle cx="1476" cy="2280.9" r="9" fill="none" stroke="#231f20" stroke-width="2.7"/>
</svg>
</body></html>
